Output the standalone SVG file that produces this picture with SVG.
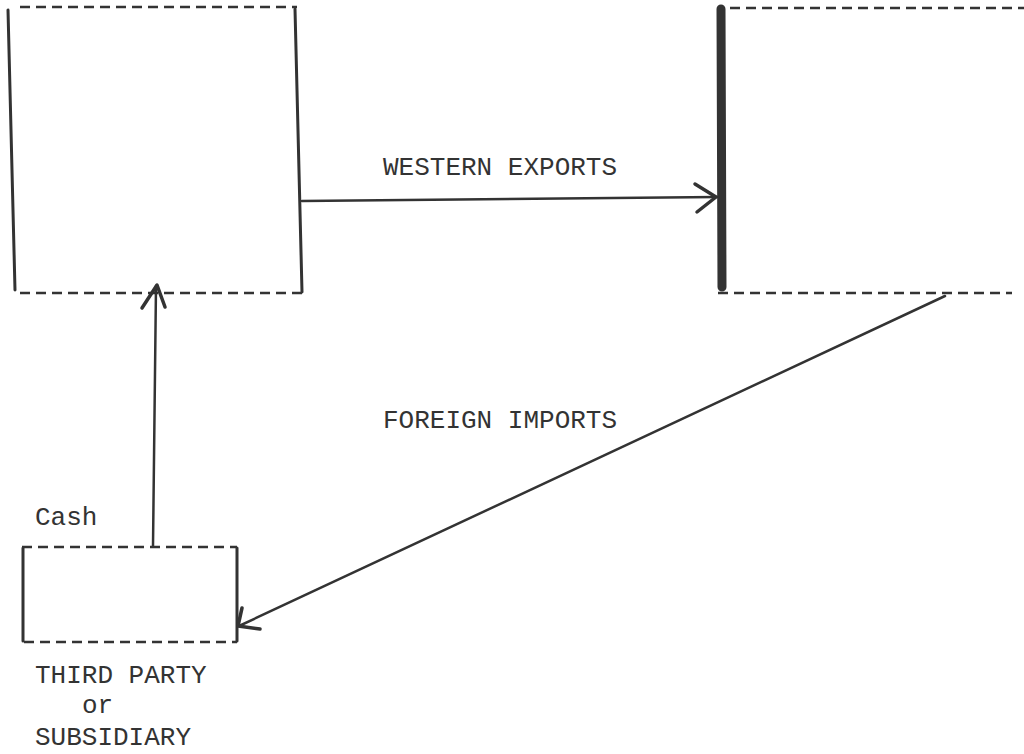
<svg xmlns="http://www.w3.org/2000/svg" width="1024" height="754" viewBox="0 0 1024 754">
  <style>
    .edge { stroke: #333; stroke-width: 3; fill: none; stroke-linecap: round; }
    .dash { stroke: #333; stroke-width: 2.5; fill: none; stroke-dasharray: 10 6; }
    .heavy { stroke: #333; stroke-width: 9; fill: none; stroke-linecap: round; }
    .flow { stroke: #333; stroke-width: 2.5; fill: none; stroke-linecap: round; stroke-linejoin: round; }
    .head { stroke: #333; stroke-width: 3.5; fill: none; stroke-linecap: round; stroke-linejoin: round; }
    .label { font-family: "Liberation Mono", "Courier New", monospace; font-size: 26px; fill: #333; }
  </style>
  <rect width="1024" height="754" fill="#fff"/>

  <!-- Western company (left) -->
  <g id="western-firm">
    <line class="dash" x1="20" y1="7" x2="297" y2="7"/>
    <line class="edge" x1="8" y1="10" x2="15" y2="290"/>
    <line class="edge" x1="295" y1="9" x2="302" y2="292"/>
    <line class="dash" x1="20" y1="293" x2="303" y2="293"/>
  </g>

  <!-- Foreign partner (right) -->
  <g id="foreign-partner">
    <line class="dash" x1="730" y1="8" x2="1024" y2="8"/>
    <line class="heavy" x1="721" y1="9" x2="722" y2="287"/>
    <line class="dash" x1="718" y1="293" x2="1012" y2="293"/>
  </g>

  <!-- Third party or subsidiary -->
  <g id="third-party">
    <line class="dash" x1="22" y1="547" x2="237" y2="547"/>
    <line class="edge" x1="23" y1="548" x2="23" y2="641"/>
    <line class="edge" x1="237" y1="548" x2="237" y2="641"/>
    <line class="dash" x1="24" y1="642" x2="237" y2="642"/>
    <text class="label" x="35" y="683">THIRD PARTY</text>
    <text class="label" x="82" y="713">or</text>
    <text class="label" x="35" y="745">SUBSIDIARY</text>
  </g>

  <!-- Flows between the parties -->
  <g id="connectors">
    <!-- exports: western firm to foreign partner -->
    <line class="flow" x1="302" y1="201" x2="717" y2="197"/>
    <polyline class="head" points="695,184 716,197 697,212"/>
    <!-- imports: foreign partner to third party -->
    <line class="flow" x1="945" y1="296" x2="239" y2="626"/>
    <polyline class="head" points="242,608 238,626 260,629"/>
    <!-- cash: third party back to western firm -->
    <line class="flow" x1="153" y1="546" x2="156" y2="286"/>
    <polyline class="head" points="142,308 157,285 165,307"/>
    <text class="label" x="383" y="175">WESTERN EXPORTS</text>
    <text class="label" x="383" y="428">FOREIGN IMPORTS</text>
    <text class="label" x="35" y="525">Cash</text>
  </g>
</svg>
